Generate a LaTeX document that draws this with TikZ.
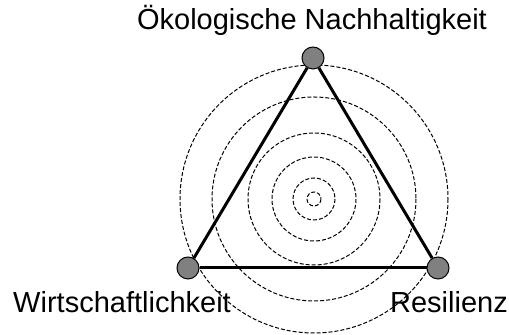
\documentclass[tikz,border=0pt]{standalone}
\usepackage{fontspec}
\setmainfont{Liberation Sans}
\usetikzlibrary{positioning}

\begin{document}
\begin{tikzpicture}[
    x=0.5pt, y=-0.5pt,
    every node/.style={font=\fontsize{14.5}{17}\selectfont},
    dot/.style={circle, draw, line width=0.5pt, fill=gray, minimum size=11pt, inner sep=0pt},
    ring/.style={dash pattern=on 2pt off 1pt, line width=0.5pt},
    side/.style={line width=1.5pt},
    label/.style={anchor=base, inner sep=0pt}
]
\useasboundingbox (0,0) rectangle (509,335);

\coordinate (m) at (314,199);
\foreach \r in {7, 21, 42, 66, 102, 134} {
    \draw[ring] (m) circle[radius=\r];
}

\node[dot] (oeko) at (313,58) {};
\node[dot] (wirt) at (188,268) {};
\node[dot] (resi) at (438,268) {};

\foreach \src/\dst in {oeko/wirt, wirt/resi, resi/oeko} {
    \draw[side] (\src) -- (\dst);
}

\node[label] (t1) at (312,30) {Ökologische Nachhaltigkeit};
\node[label] (t2) at (122,313) {Wirtschaftlichkeit};
\node[label] (t3) at (449,313) {Resilienz};

\end{tikzpicture}
\end{document}
